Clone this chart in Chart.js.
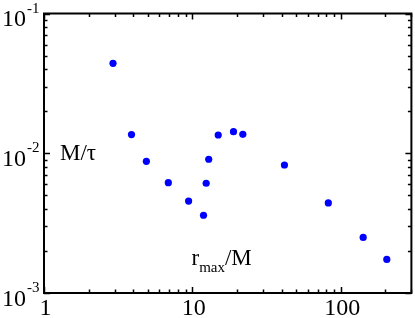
<!DOCTYPE html>
<html>
<head>
<meta charset="utf-8">
<script src="https://cdn.jsdelivr.net/npm/chart.js@4/dist/chart.umd.min.js"></script>
<style>
html,body{margin:0;padding:0;background:#fff;}
canvas{display:block;}
</style>
</head>
<body>
<canvas id="c" width="415" height="318"></canvas>
<script>
// Data
const rMax = [2.92, 3.89, 4.90, 6.89, 9.44, 11.9, 12.4, 12.9, 14.95, 18.95, 21.9, 41.8, 82.6, 141.9, 204.8];
const mTau = [0.0440, 0.0136, 0.00876, 0.00616, 0.00455, 0.00360, 0.0061, 0.00906, 0.01351, 0.01426, 0.01366, 0.00824, 0.00441, 0.00250, 0.00174];

const xTickValues = [1, 10, 100];
const xTickLabels = ['1', '10', '100'];
const yTickValues = [0.1, 0.01, 0.001];
const yTickBase = '10';
const yTickExponents = ['-1', '-2', '-3'];

const yTitle = 'M/τ';
const xTitleMain = 'r';
const xTitleSub = 'max';
const xTitleEnd = '/M';

const FONT = "'Liberation Serif', 'Times New Roman', serif";

const points = rMax.map((x, i) => ({x: x, y: mTau[i]}));

function minorValues(min, max) {
  const out = [];
  let dec = Math.pow(10, Math.floor(Math.log10(min)));
  while (dec <= max) {
    for (let k = 1; k <= 9; k++) {
      const v = k * dec;
      if (v >= min * 0.9999 && v <= max * 1.0001) out.push({v: v, major: k === 1});
    }
    dec *= 10;
  }
  return out;
}

const framePlugin = {
  id: 'frame',
  afterDraw(chart) {
    const ctx = chart.ctx;
    const a = chart.chartArea;
    const xs = chart.scales.x, ys = chart.scales.y;
    ctx.save();
    ctx.strokeStyle = '#000';
    // ticks
    ctx.lineWidth = 1.5;
    const majLen = 6, minLen = 3.5;
    minorValues(xs.min, xs.max).forEach(t => {
      const px = Math.round(xs.getPixelForValue(t.v)) + 0.5;
      const L = t.major ? majLen : minLen;
      ctx.beginPath();
      ctx.moveTo(px, a.bottom); ctx.lineTo(px, a.bottom - L);
      ctx.moveTo(px, a.top); ctx.lineTo(px, a.top + L);
      ctx.stroke();
    });
    minorValues(ys.min, ys.max).forEach(t => {
      const py = Math.round(ys.getPixelForValue(t.v)) + 0.5;
      const L = t.major ? majLen : minLen;
      ctx.beginPath();
      ctx.moveTo(a.left, py); ctx.lineTo(a.left + L, py);
      ctx.moveTo(a.right, py); ctx.lineTo(a.right - L, py);
      ctx.stroke();
    });
    // frame
    ctx.lineWidth = 2;
    ctx.strokeRect(a.left, a.top, a.right - a.left, a.bottom - a.top);

    ctx.fillStyle = '#000';
    ctx.textBaseline = 'alphabetic';
    // x tick labels
    ctx.font = '24px ' + FONT;
    ctx.textAlign = 'center';
    xTickValues.forEach((v, i) => {
      const px = xs.getPixelForValue(v);
      ctx.fillText(xTickLabels[i], px + 1.5, a.bottom + 22);
    });
    // y tick labels
    yTickValues.forEach((v, i) => {
      const py = ys.getPixelForValue(v);
      ctx.font = '24px ' + FONT;
      ctx.textAlign = 'left';
      ctx.fillText(yTickBase, 2, py + 12.5);
      const w = ctx.measureText(yTickBase).width;
      ctx.font = '15px ' + FONT;
      ctx.fillText(yTickExponents[i], 2 + w + 1, py - 1);
    });
    // axis titles inside plot
    ctx.textAlign = 'left';
    ctx.font = '23px ' + FONT;
    ctx.fillText(yTitle, 60, 160);
    ctx.font = '23px ' + FONT;
    let x0 = 191.5;
    ctx.fillText(xTitleMain, x0, 265);
    x0 += ctx.measureText(xTitleMain).width;
    ctx.font = '15px ' + FONT;
    ctx.fillText(xTitleSub, x0, 272);
    x0 += ctx.measureText(xTitleSub).width;
    ctx.font = '23px ' + FONT;
    ctx.fillText(xTitleEnd, x0, 265);
    ctx.restore();
  }
};

new Chart(document.getElementById('c'), {
  type: 'scatter',
  data: {
    datasets: [{
      data: points,
      backgroundColor: '#0000ff',
      borderWidth: 0,
      pointRadius: 3.6,
      pointHoverRadius: 3.6
    }]
  },
  options: {
    responsive: false,
    animation: false,
    devicePixelRatio: 1,
    layout: {padding: {left: 44, right: 3, top: 13.5, bottom: 25}},
    plugins: {legend: {display: false}, tooltip: {enabled: false}},
    events: [],
    scales: {
      x: {type: 'logarithmic', min: 1, max: 300, display: false},
      y: {type: 'logarithmic', min: 0.001, max: 0.1, display: false}
    }
  },
  plugins: [framePlugin]
});
</script>
</body>
</html>
